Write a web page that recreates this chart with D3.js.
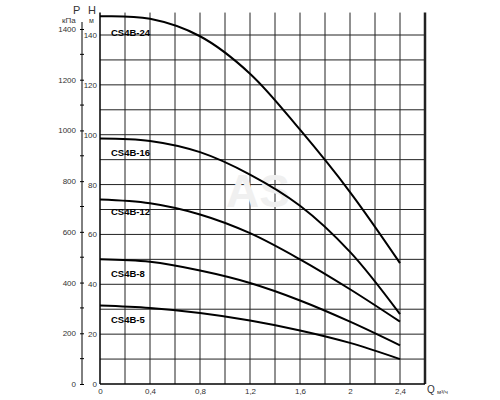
<!DOCTYPE html>
<html><head><meta charset="utf-8">
<script src="https://cdn.jsdelivr.net/npm/d3@7"></script>
<style>body{margin:0;background:#fff}text{font-family:Arial,"Liberation Sans",sans-serif}</style>
</head><body><svg id="c" width="500" height="400"></svg>
<script>
var qTicks = [0, 0.4, 0.8, 1.2, 1.6, 2, 2.4];
var hTicks = [0, 20, 40, 60, 80, 100, 120, 140];
var pTicks = [0, 200, 400, 600, 800, 1000, 1200, 1400];
var qPoints = [0, 0.4, 0.8, 1.2, 1.6, 2.0, 2.4];
var curveNames = ["CS4B-24", "CS4B-16", "CS4B-12", "CS4B-8", "CS4B-5"];
var curveH = [
  [147.5, 146.5, 139.5, 124.5, 102, 77, 48.5],
  [98.5, 97.5, 93, 84, 71.5, 53, 28],
  [74, 72.5, 68, 60.5, 50, 38, 25],
  [50, 49, 45.5, 40.5, 33.5, 25, 15.5],
  [31.5, 30.5, 28.5, 25.5, 21.5, 16.5, 10]
];
var labelH = [141, 93, 69, 44.5, 26];

var svg = d3.select("#c");
var x = d3.scaleLinear().domain([0, 2.6]).range([100, 425]);
var y = d3.scaleLinear().domain([0, 140]).range([384, 35]);
var p = d3.scaleLinear().domain([0, 1400]).range([384, 29]);
var topY = y(149);

// grid
var g = svg.append("g").attr("stroke", "#222").attr("stroke-width", 1);
d3.range(10, 150, 10).forEach(function(h){
  g.append("line").attr("x1", x(0)).attr("x2", x(2.6)).attr("y1", y(h)).attr("y2", y(h));
});
d3.range(1, 13).forEach(function(i){
  g.append("line").attr("x1", x(i*0.2)).attr("x2", x(i*0.2)).attr("y1", topY).attr("y2", y(0));
});
g.append("line").attr("x1", x(2.6)).attr("x2", x(2.6)).attr("y1", topY).attr("y2", y(0)).attr("stroke-width", 2.5);

// axes
svg.append("g").attr("transform", "translate(100,0)")
  .call(d3.axisLeft(y).tickValues(hTicks).tickSize(0).tickPadding(3))
  .call(function(s){ s.select(".domain").attr("d", "M0," + topY + "V" + y(0)).attr("stroke-width", 1.5); })
  .selectAll("text").attr("font-size", 8).attr("fill", "#333");
svg.append("g").attr("transform", "translate(0,384)")
  .call(d3.axisBottom(x).tickValues(qTicks).tickSize(0).tickPadding(4).tickFormat(function(d){ return String(d).replace(".", ","); }))
  .call(function(s){ s.select(".domain").attr("d", "M" + x(0) + ",0H" + x(2.6)).attr("stroke-width", 1.5); })
  .selectAll("text").attr("font-size", 8).attr("fill", "#333");
var pa = svg.append("g").attr("transform", "translate(82,0)")
  .call(d3.axisLeft(p).tickValues(pTicks).tickSize(4).tickPadding(2).tickFormat(d3.format("d")));
pa.select(".domain").attr("d", "M0,22V384");
pa.selectAll("text").attr("font-size", 8).attr("fill", "#333");
pa.selectAll(".tick line").attr("transform", "translate(2,0)");
d3.range(100, 1500, 200).forEach(function(v){
  pa.append("line").attr("x1", -2).attr("x2", 2).attr("y1", p(v)).attr("y2", p(v)).attr("stroke", "#000");
});

// axis titles
svg.append("text").attr("x", 73).attr("y", 14).attr("font-size", 11).attr("fill", "#333").text("P");
svg.append("text").attr("x", 62).attr("y", 23).attr("font-size", 8).attr("fill", "#333").text("кПа");
svg.append("text").attr("x", 88).attr("y", 14).attr("font-size", 11).attr("fill", "#333").text("H");
svg.append("text").attr("x", 89).attr("y", 23).attr("font-size", 7).attr("fill", "#333").text("м");
svg.append("text").attr("x", 427).attr("y", 393).attr("font-size", 10).attr("fill", "#333").text("Q");
svg.append("text").attr("x", 437).attr("y", 394).attr("font-size", 6).attr("fill", "#333").text("м³/ч");

// watermark
svg.append("text").attr("x", 258).attr("y", 207).attr("text-anchor", "middle").attr("font-size", 46)
  .attr("font-family", "Liberation Serif, serif").attr("font-weight", "bold").attr("fill", "#f0f0f0").text("AS");

// curves
var line = d3.line().x(function(d, i){ return x(qPoints[i]); }).y(function(d){ return y(d); }).curve(d3.curveCatmullRom);
curveH.forEach(function(c, k){
  svg.append("path").attr("d", line(c)).attr("fill", "none").attr("stroke", "#000").attr("stroke-width", 2);
  svg.append("text").attr("x", 111).attr("y", y(labelH[k]) + 3.5).attr("font-size", 9.5).attr("font-weight", "bold").text(curveNames[k]);
});
</script></body></html>
